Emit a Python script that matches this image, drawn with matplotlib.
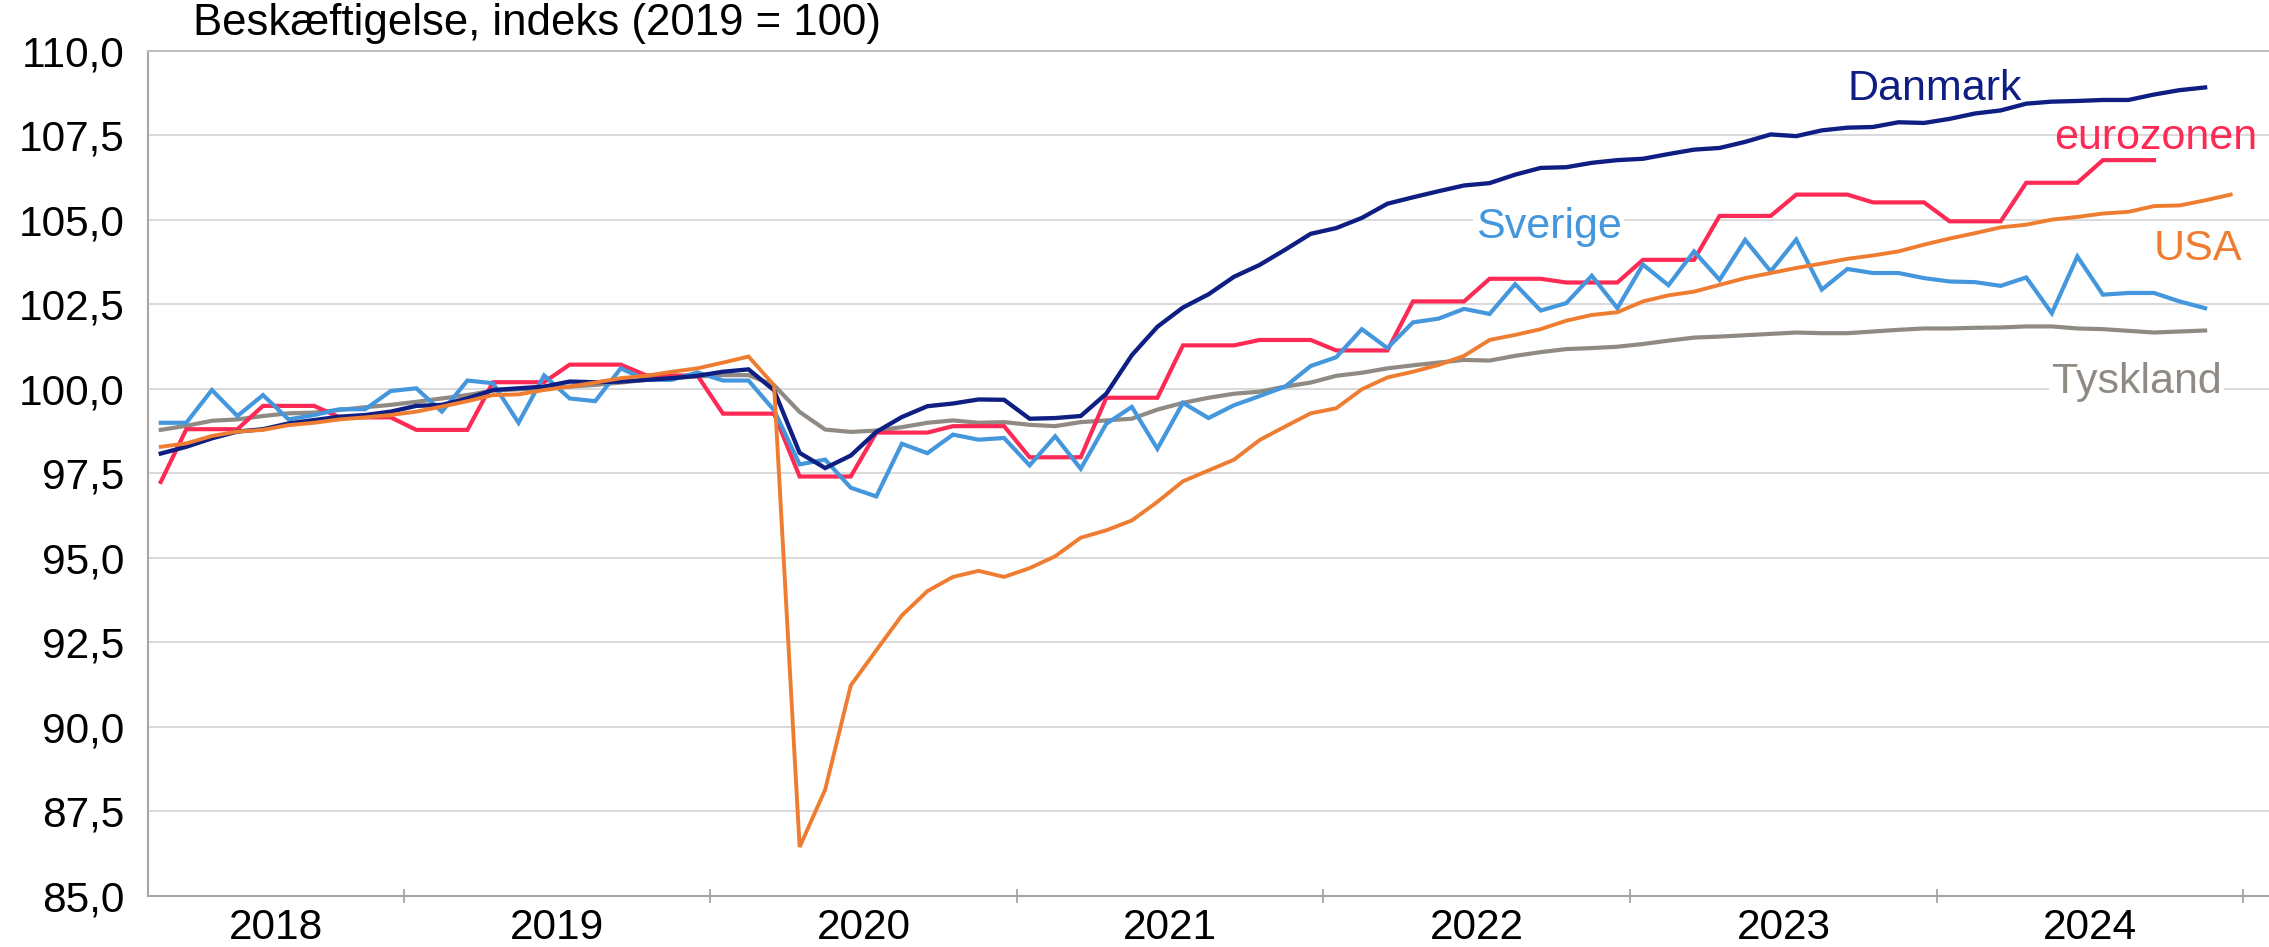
import numpy as np
import pandas as pd
import matplotlib
matplotlib.use("Agg")
import matplotlib.pyplot as plt
from matplotlib.ticker import FixedLocator, NullFormatter, FuncFormatter

plt.rcParams['font.family'] = ['Liberation Sans', 'DejaVu Sans']

# Monthly categories: Mar 2018 .. Jan 2025 (last category empty)
months = pd.period_range("2018-03", "2025-01", freq="M")
years = ["2018", "2019", "2020", "2021", "2022", "2023", "2024"]

danmark = [98.08, 98.28, 98.53, 98.73, 98.80, 98.97, 99.07, 99.17, 99.22, 99.32,
           99.49, 99.52, 99.71, 99.96, 100.01, 100.06, 100.21, 100.19, 100.21, 100.26, 100.31, 100.38,
           100.50, 100.57, 99.95, 98.10, 97.65, 98.02, 98.72, 99.16, 99.48, 99.56, 99.68, 99.67,
           99.11, 99.13, 99.19, 99.85, 100.99, 101.83, 102.40, 102.79, 103.31, 103.66, 104.11, 104.58,
           104.75, 105.05, 105.47, 105.66, 105.84, 106.01, 106.08, 106.33, 106.53, 106.55, 106.68, 106.76,
           106.80, 106.94, 107.07, 107.12, 107.30, 107.52, 107.47, 107.64, 107.72, 107.74, 107.88, 107.86,
           107.98, 108.14, 108.23, 108.43, 108.49, 108.51, 108.54, 108.54, 108.70, 108.83, 108.91]

eurozonen = [97.24, 98.80, 98.80, 98.80, 99.49, 99.49, 99.49, 99.15, 99.15, 99.15,
             98.78, 98.78, 98.78, 100.19, 100.19, 100.19, 100.71, 100.71, 100.71, 100.39, 100.39, 100.39,
             99.26, 99.26, 99.26, 97.40, 97.40, 97.40, 98.70, 98.70, 98.70, 98.89, 98.89, 98.89,
             97.97, 97.97, 97.97, 99.73, 99.73, 99.73, 101.28, 101.28, 101.28, 101.44, 101.44, 101.44,
             101.13, 101.13, 101.13, 102.58, 102.58, 102.58, 103.25, 103.25, 103.25, 103.14, 103.14, 103.14,
             103.81, 103.81, 103.81, 105.11, 105.11, 105.11, 105.74, 105.74, 105.74, 105.51, 105.51, 105.51,
             104.95, 104.95, 104.95, 106.09, 106.09, 106.09, 106.76, 106.76, 106.76]

sverige = [98.99, 98.99, 99.96, 99.19, 99.81, 99.09, 99.22, 99.39, 99.39, 99.93,
           100.01, 99.32, 100.24, 100.16, 98.99, 100.39, 99.71, 99.63, 100.60, 100.26, 100.26, 100.48,
           100.24, 100.24, 99.36, 97.76, 97.90, 97.07, 96.81, 98.37, 98.09, 98.64, 98.49, 98.54,
           97.73, 98.59, 97.63, 98.96, 99.46, 98.22, 99.58, 99.13, 99.51, 99.78, 100.06, 100.67,
           100.93, 101.76, 101.20, 101.96, 102.07, 102.36, 102.21, 103.09, 102.31, 102.53, 103.34, 102.38,
           103.67, 103.06, 104.06, 103.22, 104.40, 103.47, 104.41, 102.93, 103.54, 103.42, 103.42, 103.27,
           103.17, 103.15, 103.04, 103.29, 102.23, 103.91, 102.78, 102.83, 102.83, 102.58, 102.38]

usa = [98.28, 98.38, 98.60, 98.73, 98.78, 98.92, 98.99, 99.09, 99.15, 99.22,
       99.32, 99.47, 99.63, 99.81, 99.83, 99.96, 100.06, 100.18, 100.31, 100.38, 100.50, 100.60,
       100.77, 100.95, 100.10, 86.44, 88.14, 91.22, 92.26, 93.29, 94.01, 94.43, 94.61, 94.43,
       94.69, 95.04, 95.59, 95.81, 96.10, 96.65, 97.26, 97.58, 97.90, 98.48, 98.88, 99.27,
       99.42, 99.98, 100.33, 100.50, 100.70, 100.97, 101.44, 101.59, 101.76, 102.01, 102.18, 102.26,
       102.58, 102.76, 102.87, 103.07, 103.27, 103.42, 103.57, 103.70, 103.84, 103.94, 104.06, 104.26,
       104.44, 104.60, 104.77, 104.85, 105.00, 105.08, 105.18, 105.23, 105.40, 105.42, 105.57, 105.74]

tyskland = [98.78, 98.90, 99.05, 99.09, 99.19, 99.27, 99.29, 99.37, 99.45, 99.52,
            99.61, 99.71, 99.81, 99.94, 99.98, 100.01, 100.06, 100.11, 100.18, 100.26, 100.31, 100.36,
            100.40, 100.40, 100.10, 99.31, 98.79, 98.72, 98.76, 98.86, 98.99, 99.06, 98.99, 99.01,
            98.93, 98.89, 99.01, 99.06, 99.11, 99.38, 99.58, 99.73, 99.85, 99.91, 100.06, 100.18,
            100.38, 100.47, 100.60, 100.69, 100.77, 100.85, 100.83, 100.97, 101.08, 101.17, 101.20, 101.24,
            101.32, 101.42, 101.51, 101.54, 101.58, 101.62, 101.66, 101.64, 101.64, 101.69, 101.74, 101.78,
            101.78, 101.80, 101.81, 101.84, 101.84, 101.78, 101.76, 101.71, 101.66, 101.69, 101.72]

c_dk = '#0F1E82'
c_ez = '#FC2A55'
c_se = '#4497DC'
c_us = '#EE7D31'
c_de = '#908A84'
grid_c = '#D9D9D9'
axis_c = '#A6A6A6'

fig = plt.figure(figsize=(22.69, 9.47), dpi=100)
W, H = 2269, 947
ax = fig.add_axes([148 / W, (H - 895.7) / H, (W - 148) / W, (895.7 - 50.6) / H])

n = len(months)
x_all = np.arange(n)

def series(vals):
    return x_all[:len(vals)], np.array(vals)

for vals, col, lw, z in [(tyskland, c_de, 3.0, 3), (eurozonen, c_ez, 3.0, 4),
                         (sverige, c_se, 3.0, 5), (danmark, c_dk, 3.1, 6), (usa, c_us, 2.8, 7)]:
    xs, ys = series(vals)
    ax.plot(xs, ys, color=col, lw=lw, zorder=z, solid_joinstyle='miter')

ax.set_xlim(-0.5, n - 0.5)
ax.set_ylim(85, 110)

yt = np.arange(85, 110.01, 2.5)
ax.set_yticks(yt)
ax.yaxis.set_major_formatter(FuncFormatter(lambda v, p: f"{v:.1f}".replace('.', ',')))
ax.tick_params(axis='y', length=0, pad=17, labelsize=30.5, labelcolor='black')
for v in yt[1:]:
    ax.axhline(v, color=grid_c, lw=1.4, zorder=1)

# year boundaries (Januaries) and centred labels
jan_idx = [i for i, m in enumerate(months) if m.month == 1]
bounds = [i - 0.5 for i in jan_idx]
edges = [-0.5] + bounds
centers = [(edges[k] + edges[k + 1]) / 2 for k in range(len(years))]
ax.xaxis.set_major_locator(FixedLocator(bounds))
ax.xaxis.set_major_formatter(NullFormatter())
ax.xaxis.set_minor_locator(FixedLocator(centers))
ax.set_xticklabels(years, minor=True)
ax.tick_params(axis='x', which='major', direction='inout', length=10, width=1.3, color=axis_c)
ax.tick_params(axis='x', which='minor', length=0, pad=9, labelsize=30.5)

for s in ['top', 'left', 'bottom']:
    ax.spines[s].set_color(axis_c)
    ax.spines[s].set_linewidth(1.5)
ax.spines['right'].set_visible(False)
ax.spines['top'].set_color('#BFBFBF')

lab_kw = dict(fontsize=31, va='baseline', ha='left', zorder=10, clip_on=False)
bb = dict(facecolor='white', edgecolor='none', pad=2)
ax.text(66.0, 108.55, 'Danmark', color=c_dk, **lab_kw)
ax.text(74.1, 107.09, 'eurozonen', color=c_ez, **lab_kw)
ax.text(78.0, 103.81, 'USA', color=c_us, bbox=bb, **lab_kw)
ax.text(51.45, 104.46, 'Sverige', color=c_se, bbox=bb, **lab_kw)
ax.text(74.0, 99.86, 'Tyskland', color=c_de, bbox=bb, **lab_kw)

fig.text(193 / W, (H - 35) / H, 'Beskæftigelse, indeks (2019 = 100)', fontsize=31.5,
         ha='left', va='baseline', color='black')

fig.savefig('out.png', dpi=100)
